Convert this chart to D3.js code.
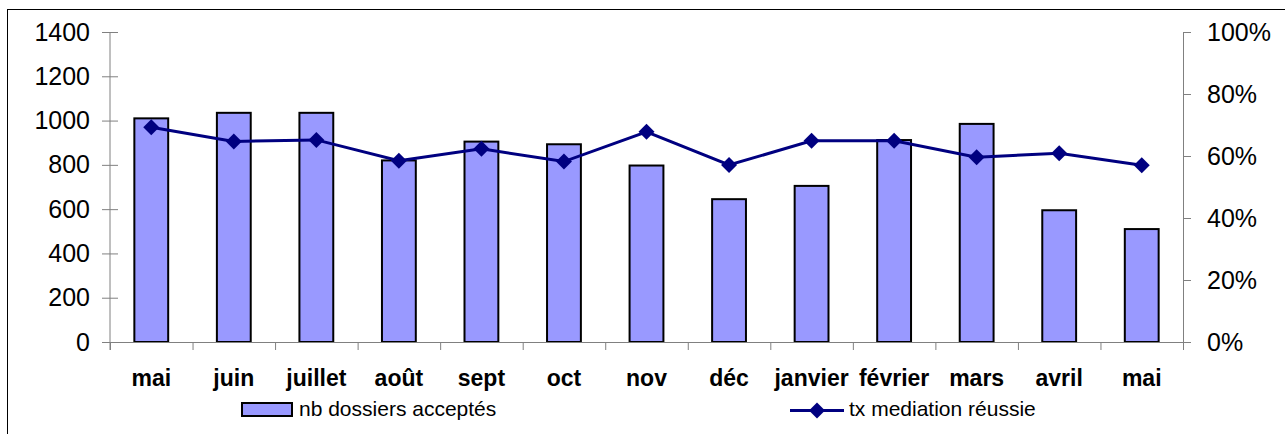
<!DOCTYPE html>
<html>
<head>
<meta charset="utf-8">
<script src="https://cdn.jsdelivr.net/npm/d3@7"></script>
<style>
  body { margin: 0; background: #fff; }
  svg { display: block; font-family: "Liberation Sans", Arial, sans-serif; }
</style>
</head>
<body>
<div id="vis"></div>
<script>
// monthly data
const months = ["mai", "juin", "juillet", "août", "sept", "oct", "nov", "déc", "janvier", "février", "mars", "avril", "mai"];
const dossiers = [1010, 1035, 1035, 820, 905, 893, 797, 645, 705, 912, 985, 595, 510];
const tauxReussite = [0.693, 0.647, 0.652, 0.585, 0.623, 0.582, 0.678, 0.571, 0.649, 0.649, 0.596, 0.609, 0.570];
const leftTicks = [0, 200, 400, 600, 800, 1000, 1200, 1400];
const rightTicks = [0, 0.2, 0.4, 0.6, 0.8, 1.0];

const W = 1285, H = 434;
const PLOT = {left: 110, right: 1183, top: 32, bottom: 342};

const svg = d3.select("#vis").append("svg")
    .attr("width", W)
    .attr("height", H);

// outer frame (right/bottom edge falls off the picture)
svg.append("rect")
    .attr("x", 7.5).attr("y", 9.5)
    .attr("width", W).attr("height", H)
    .attr("fill", "none")
    .attr("stroke", "#000")
    .attr("stroke-width", 1);

const idx = d3.range(months.length);
const X = d3.scaleBand().domain(idx).range([PLOT.left, PLOT.right]);
const X_EDGES = d3.scaleLinear().domain([0, months.length]).range([PLOT.left, PLOT.right]);
const Y_LEFT = d3.scaleLinear().domain([0, 1400]).range([PLOT.bottom, PLOT.top]);
const Y_RIGHT = d3.scaleLinear().domain([0, 1]).range([PLOT.bottom, PLOT.top]);

const AXIS_COL = "#808080";

// bars
const barW = X.bandwidth() * 0.41;
svg.selectAll(".bar")
    .data(idx)
    .enter()
    .append("rect")
      .attr("class", "bar")
      .attr("x", (i) => X(i) + (X.bandwidth() - barW) / 2)
      .attr("y", (i) => Y_LEFT(dossiers[i]))
      .attr("width", barW)
      .attr("height", (i) => PLOT.bottom - Y_LEFT(dossiers[i]))
      .attr("fill", "#9999FF")
      .attr("stroke", "#000")
      .attr("stroke-width", 2);

// left axis, ticks cross the line
const gL = svg.append("g")
    .attr("transform", "translate(" + PLOT.left + ",0)")
    .call(d3.axisLeft(Y_LEFT).tickValues(leftTicks).tickSize(8).tickSizeOuter(0)
          .tickPadding(12).tickFormat(d3.format("d")));
gL.selectAll(".tick line").attr("x1", -8).attr("x2", 8);

// right axis
const gR = svg.append("g")
    .attr("transform", "translate(" + PLOT.right + ",0)")
    .call(d3.axisRight(Y_RIGHT).tickValues(rightTicks).tickSize(8).tickSizeOuter(0)
          .tickPadding(16).tickFormat(d3.format(".0%")));

// bottom axis with ticks at category edges
const gB = svg.append("g")
    .attr("transform", "translate(0," + PLOT.bottom + ")")
    .call(d3.axisBottom(X_EDGES).tickValues(d3.range(months.length + 1)).tickSize(8).tickSizeOuter(0).tickFormat(""));

[gL, gR, gB].forEach((g) => {
  g.selectAll("path, line").attr("stroke", AXIS_COL).attr("stroke-width", 1);
  g.selectAll("text").attr("fill", "#000").attr("font-size", "25px")
    .attr("font-family", "'Liberation Sans', Arial, sans-serif");
});
gL.select(".domain").attr("d", "M0," + PLOT.top + "V" + (PLOT.bottom + 8));

// category labels
svg.selectAll(".xlab")
    .data(idx)
    .enter()
    .append("text")
      .attr("class", "xlab")
      .attr("x", (i) => X(i) + X.bandwidth() / 2)
      .attr("y", 386)
      .attr("text-anchor", "middle")
      .attr("font-size", "23px")
      .attr("font-weight", "bold")
      .text((i) => months[i]);

// rate line
const line = d3.line()
    .x((i) => X(i) + X.bandwidth() / 2)
    .y((i) => Y_RIGHT(tauxReussite[i]));

svg.append("path")
    .datum(idx)
    .attr("d", line)
    .attr("fill", "none")
    .attr("stroke", "#000080")
    .attr("stroke-width", 3);

const diamond = d3.symbol().type(d3.symbolSquare).size(128);
svg.selectAll(".pt")
    .data(idx)
    .enter()
    .append("path")
      .attr("class", "pt")
      .attr("d", diamond)
      .attr("transform", (i) => "translate(" + (X(i) + X.bandwidth() / 2) + "," + Y_RIGHT(tauxReussite[i]) + ") rotate(45)")
      .attr("fill", "#000080");

// legend
const lg = svg.append("g");
lg.append("rect")
    .attr("x", 242).attr("y", 403)
    .attr("width", 50).attr("height", 13)
    .attr("fill", "#9999FF").attr("stroke", "#000").attr("stroke-width", 2);
lg.append("text")
    .attr("x", 299).attr("y", 416)
    .attr("font-size", "21px")
    .text("nb dossiers acceptés");

lg.append("line")
    .attr("x1", 790).attr("x2", 844)
    .attr("y1", 410.5).attr("y2", 410.5)
    .attr("stroke", "#000080").attr("stroke-width", 3);
lg.append("path")
    .attr("d", diamond)
    .attr("transform", "translate(817,410.5) rotate(45)")
    .attr("fill", "#000080");
lg.append("text")
    .attr("x", 849).attr("y", 416)
    .attr("font-size", "21px")
    .text("tx mediation réussie");
</script>
</body>
</html>
